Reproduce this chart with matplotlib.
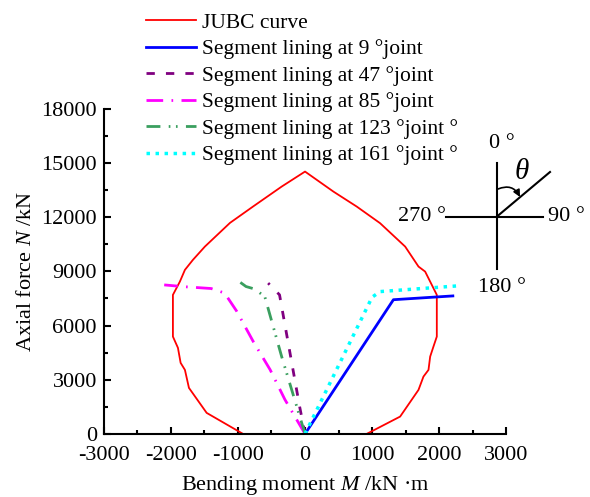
import matplotlib
matplotlib.use("Agg")
import matplotlib.pyplot as plt
from matplotlib.ticker import MultipleLocator
from matplotlib.patches import FancyArrowPatch

plt.rcParams['font.family'] = ['Liberation Serif', 'DejaVu Serif']
plt.rcParams['mathtext.fontset'] = 'custom'
plt.rcParams['mathtext.rm'] = 'Liberation Serif'
plt.rcParams['mathtext.it'] = 'Liberation Serif:italic'
plt.rcParams['axes.unicode_minus'] = False
plt.rcParams['font.size'] = 16

# JUBC interaction curve
jubc_m = [-925, -1467, -1731, -1791, -1855, -1895, -1970, -1970, -1866, -1791, -1672,
          -1493, -1119, -776, -348, 0, 423, 771, 1119, 1493, 1692, 1791, 1965, 1965,
          1915, 1866, 1841, 1766, 1692, 1418, 920]
jubc_n = [0, 1163, 2547, 3544, 3932, 4763, 5388, 7698, 8434, 9082, 9636,
          10373, 11685, 12588, 13696, 14526, 13418, 12588, 11668, 10373, 9265, 8988, 7698, 5388,
          4835, 4281, 3544, 3173, 2437, 958, 0]

# segment lining load paths
j9_m = [0, 1318, 2204]
j9_n = [0, 7430, 7640]
j47_m = [0, -80, -380, -550]
j47_n = [0, 1500, 7700, 8350]
j85_m = [0, -300, -520, -770, -1020, -1200, -1400, -1800, -2100]
j85_n = [0, 1900, 3550, 5100, 6800, 7800, 8050, 8150, 8250]
j123_m = [0, -350, -600, -750, -880, -980]
j123_n = [0, 4300, 7600, 8020, 8160, 8430]
j161_m = [0, 1000, 1119, 2290]
j161_n = [0, 7570, 7880, 8200]

labels = ['JUBC curve',
          'Segment lining at 9 °joint',
          'Segment lining at 47 °joint',
          'Segment lining at 85 °joint',
          'Segment lining at 123 °joint °',
          'Segment lining at 161 °joint °']

fig = plt.figure(figsize=(5.9, 4.97), dpi=100)
ax = fig.add_axes([0.176, 0.127, 0.682, 0.654])

ax.plot(jubc_m, jubc_n, color='#ff0000', lw=1.3, label=labels[0])
ax.plot(j9_m, j9_n, color='#0000ff', lw=2.0, label=labels[1])
ax.plot(j47_m, j47_n, color='#800080', lw=2.0, ls=(0, (3, 4)), label=labels[2])
ax.plot(j85_m, j85_n, color='#ff00ff', lw=2.0, ls=(0, (6, 3, 0.6, 3)), label=labels[3])
ax.plot(j123_m, j123_n, color='#3a9f5f', lw=2.0, ls=(0, (5, 3, 0.6, 2, 0.6, 3)), label=labels[4])
ax.plot(j161_m, j161_n, color='#00ffff', lw=2.5, ls=(0, (1, 1.6)), label=labels[5])

ax.set_xlim(-3000, 3000)
ax.set_ylim(0, 18000)
ax.xaxis.set_major_locator(MultipleLocator(1000))
ax.xaxis.set_minor_locator(MultipleLocator(500))
ax.yaxis.set_major_locator(MultipleLocator(3000))
ax.yaxis.set_minor_locator(MultipleLocator(1500))
ax.tick_params(which='both', direction='in', width=1.5)
ax.tick_params(axis='x', pad=9)
ax.tick_params(axis='y', pad=5)
ax.tick_params(which='major', length=5)
ax.tick_params(which='minor', length=3)
for s in ['top', 'right']:
    ax.spines[s].set_visible(False)
for s in ['left', 'bottom']:
    ax.spines[s].set_linewidth(1.5)

ax.set_xlabel('Bending moment $M$ /kN ·m', labelpad=6)
ax.set_ylabel('Axial force $N$ /kN', labelpad=4)

fig.legend(loc='upper left', bbox_to_anchor=(0.222, 1.005), frameon=False, fontsize=15.5,
           handlelength=2.3, handletextpad=0.3, labelspacing=0.3, borderpad=0.2)

# angle sketch, drawn in figure pixel units
sk = fig.add_axes([0, 0, 1, 1])
sk.set_xlim(0, 590)
sk.set_ylim(497, 0)
sk.axis('off')
cx, cy = 497, 216.5
sk.plot([cx, cx], [163, 269], color='k', lw=1.5)
sk.plot([446, 543], [cy, cy], color='k', lw=1.5)
sk.plot([cx, 550], [cy, 172], color='k', lw=1.5)
sk.add_patch(FancyArrowPatch((cx + 1, 189), (520, 197),
                             connectionstyle='arc3,rad=-0.45', arrowstyle='-|>',
                             mutation_scale=10, color='k', lw=1.2,
                             shrinkA=0, shrinkB=0))
sk.text(522, 172, r'$\theta$', fontsize=21, ha='center', va='center')
sk.text(cx + 5, 144, '0 °', ha='center', va='center')
sk.text(548, cy, '90 °', ha='left', va='center')
sk.text(446, cy, '270 °', ha='right', va='center')
sk.text(502, 287, '180 °', ha='center', va='center')

fig.savefig('out.png', dpi=100)
